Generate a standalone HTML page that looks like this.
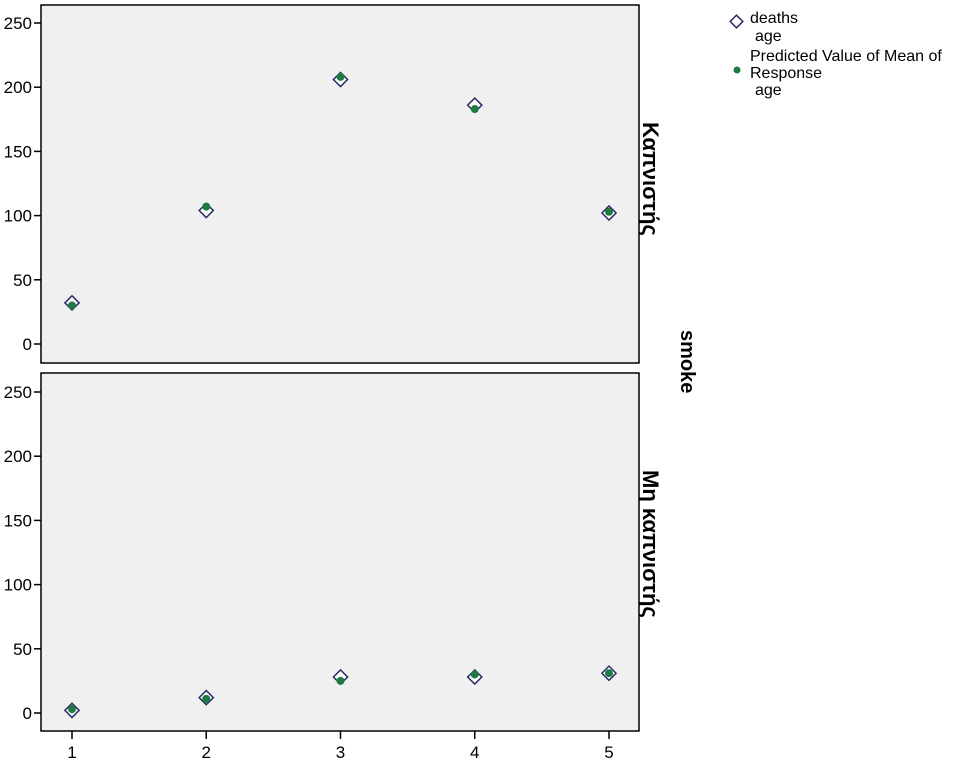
<!DOCTYPE html>
<html><head><meta charset="utf-8"><style>
body{margin:0;background:#fff;font-family:"Liberation Sans",sans-serif}
svg text{font-family:"Liberation Sans","DejaVu Sans",sans-serif}
</style></head><body>
<svg id="c" width="960" height="764" xmlns="http://www.w3.org/2000/svg">
<rect x="41" y="5" width="598" height="358" fill="#f0f0f0" stroke="#000" stroke-width="1.5"/>
<rect x="41" y="373" width="598" height="358" fill="#f0f0f0" stroke="#000" stroke-width="1.5"/>
<g id="axes"></g><g id="marks"></g>
<text x="0" y="0" font-size="22" font-weight="bold" transform="translate(643,122) rotate(90)">Καπνιστής</text>
<text x="0" y="0" font-size="22" font-weight="bold" transform="translate(643,470) rotate(90)">Μη καπνιστής</text>
<text x="0" y="0" font-size="20" font-weight="bold" transform="translate(681,330) rotate(90)">smoke</text>
<g>
<rect x="732" y="17" width="9" height="9" fill="#fff" stroke="#2a2a66" stroke-width="1.5" transform="rotate(45 736.5 21.5)"/>
<text x="750" y="23" font-size="16">deaths</text>
<text x="755" y="41" font-size="16">age</text>
<circle cx="737" cy="70" r="3.5" fill="#1e7a43"/>
<text x="750" y="61" font-size="16">Predicted Value of Mean of</text>
<text x="750" y="78" font-size="16">Response</text>
<text x="755" y="95" font-size="16">age</text>
</g>
</svg>
<script>
const categories=[1,2,3,4,5];
const yTicks=[0,50,100,150,200,250];
const smokerDeaths=[32,104,206,186,102];
const smokerPredicted=[30,107,208,183,103];
const nonSmokerDeaths=[2,12,28,28,31];
const nonSmokerPredicted=[3,11,25,30,31];
const NS="http://www.w3.org/2000/svg";
const x=v=>72+(v-1)*134.25;
const panels=[{y0:344,name:'smokers',d:smokerDeaths,p:smokerPredicted},{y0:713,name:'nonsmokers',d:nonSmokerDeaths,p:nonSmokerPredicted}];
const yS=(p,v)=>p.y0-v*(321/250);
const axes=document.getElementById('axes'),marks=document.getElementById('marks');
function mk(t,a,parent){const e=document.createElementNS(NS,t);for(const k in a)e.setAttribute(k,a[k]);parent.appendChild(e);return e;}
panels.forEach(p=>{
 yTicks.forEach(t=>{const yy=yS(p,t);
  const l=mk('line',{x1:34,x2:41,y1:yy,y2:yy,stroke:'#000','stroke-width':1.5},axes);
  
  
  const tx=mk('text',{x:32,y:yy+6,'text-anchor':'end','font-size':17},axes);tx.textContent=t;
  
  
 });
 categories.forEach((c,i)=>{
  const cx=x(c),dy=yS(p,p.d[i]),py=yS(p,p.p[i]);
  const r=mk('rect',{x:cx-5,y:dy-5,width:10,height:10,fill:'#fff',stroke:'#2a2a66','stroke-width':1.5,transform:`rotate(45 ${cx} ${dy})`},marks);
  
  
  const ci=mk('circle',{cx:cx,cy:py,r:4,fill:'#1e7a43'},marks);
  
  
 });
});
categories.forEach(c=>{
 const l=mk('line',{x1:x(c),x2:x(c),y1:731,y2:739,stroke:'#000','stroke-width':1.5},axes);
 
 
 const t=mk('text',{x:x(c),y:758,'text-anchor':'middle','font-size':17},axes);t.textContent=c;
 
 
});
</script>
</body></html>
